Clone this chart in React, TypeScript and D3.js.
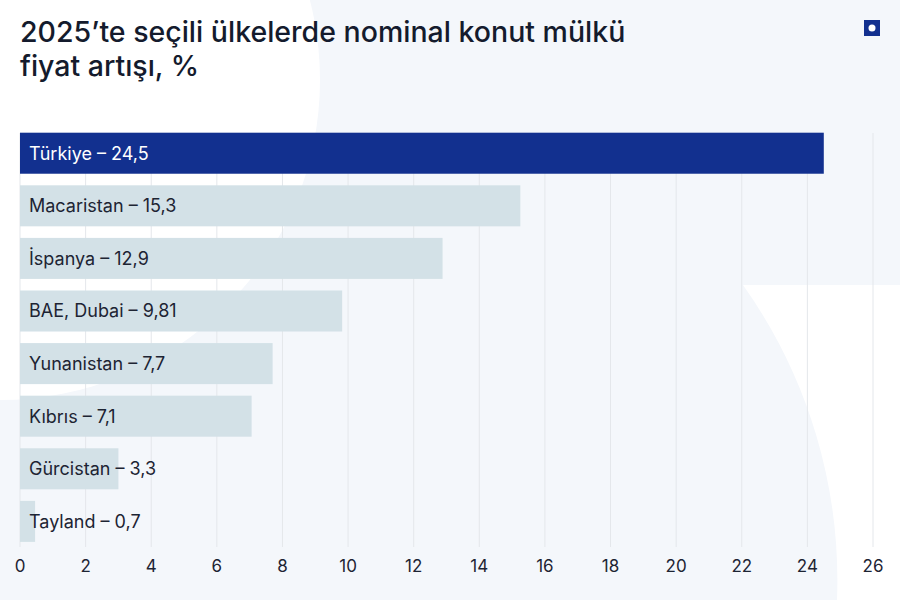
import React from "react";
import * as d3 from "d3";

const countries = ["Türkiye", "Macaristan", "İspanya", "BAE, Dubai", "Yunanistan", "Kıbrıs", "Gürcistan", "Tayland"];
// bar lengths as drawn in the picture
const values = [24.5, 15.25, 12.88, 9.82, 7.7, 7.06, 3.0, 0.46];
const valueLabels = ["24,5", "15,3", "12,9", "9,81", "7,7", "7,1", "3,3", "0,7"];
const ticks = [0, 2, 4, 6, 8, 10, 12, 14, 16, 18, 20, 22, 24, 26];
const titleLines = ["2025’te seçili ülkelerde nominal konut mülkü", "fiyat artışı, %"];

const W = 900;
const H = 600;
const FONT = "Inter, 'Noto Sans', sans-serif";

export default function App() {
  const x = d3.scaleLinear().domain([0, 26]).range([20, 873]);
  const y = d3
    .scaleBand<string>()
    .domain(countries)
    .range([132.7, 541.9])
    .paddingInner(0.22)
    .paddingOuter(0);
  const gridTop = 133;
  const gridBottom = 547;

  return (
    <svg
      width={W}
      height={H}
      viewBox={`0 0 ${W} ${H}`}
      style={{ position: "absolute", left: 0, top: 0, display: "block" }}
    >
      <rect x={0} y={0} width={W} height={H} fill="#f4f7fb" />
      <circle cx={0} cy={80} r={320} fill="#ffffff" />
      <path d="M 743 285 L 900 285 L 900 600 L 837 600 A 510 510 0 0 0 743 285 Z" fill="#ffffff" />

      {titleLines.map((t, i) => (
        <text
          key={i}
          x={20}
          y={42 + i * 33.5}
          fontFamily={FONT}
          fontSize={28.5}
          fontWeight={500}
          fill="#141b2d"
        >
          {t}
        </text>
      ))}

      <rect x={864} y={20} width={16} height={16} fill="#12308f" />
      <circle cx={872} cy={28} r={3.5} fill="#ffffff" />

      {ticks.map((t) => (
        <line
          key={"g" + t}
          x1={x(t)}
          x2={x(t)}
          y1={gridTop}
          y2={gridBottom}
          stroke="#e4e7eb"
          strokeWidth={1}
        />
      ))}

      {countries.map((c, i) => (
        <g key={c}>
          <rect
            x={x(0)}
            y={y(c)}
            width={x(values[i]) - x(0)}
            height={y.bandwidth()}
            fill={i === 0 ? "#12308f" : "#d3e1e7"}
          />
          <text
            x={29}
            y={(y(c) as number) + y.bandwidth() / 2}
            dy="0.36em"
            fontFamily={FONT}
            fontSize={18}
            fill={i === 0 ? "#ffffff" : "#1d2433"}
          >
            {`${c} – ${valueLabels[i]}`}
          </text>
        </g>
      ))}

      {ticks.map((t) => (
        <text
          key={"t" + t}
          x={x(t)}
          y={566}
          dy="0.36em"
          textAnchor="middle"
          fontFamily={FONT}
          fontSize={17}
          fill="#1d2433"
        >
          {t}
        </text>
      ))}
    </svg>
  );
}
